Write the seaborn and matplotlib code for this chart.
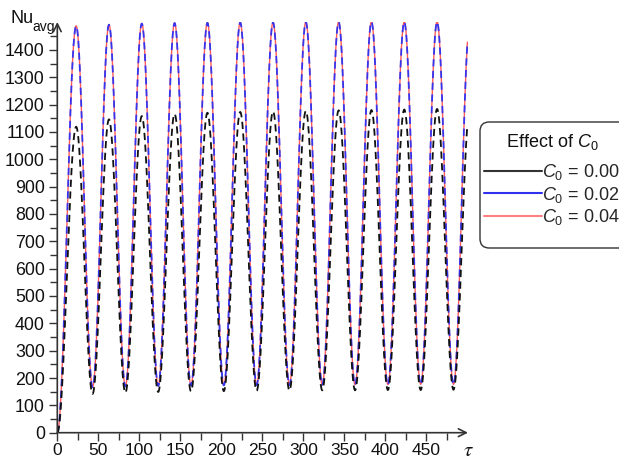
import numpy as np
import pandas as pd
import matplotlib
matplotlib.use("Agg")
import matplotlib.pyplot as plt
from matplotlib.lines import Line2D
from matplotlib.patches import FancyBboxPatch
import seaborn as sns

# ---------------- data ----------------
labels = ["$C_0$ = 0.00", "$C_0$ = 0.02", "$C_0$ = 0.04"]
peak_tau = [23, 63, 103, 143, 183, 223, 263, 303, 343, 383, 423, 463]
trough_tau = [43, 83, 123, 163, 203, 243, 283, 323, 363, 403, 443, 483]
end_tau = 500
next_peak_tau = 503

peaks_c000 = [1119, 1146, 1158, 1166, 1170, 1173, 1175, 1177, 1179, 1180, 1182, 1184]
troughs_c000 = [142, 146, 149, 151, 152, 153, 154, 155, 155, 156, 156, 157]
peaks_c002 = [1487, 1492, 1496, 1498, 1499, 1500, 1500, 1501, 1501, 1502, 1502, 1502]
troughs_c002 = [166, 169, 171, 172, 173, 174, 174, 175, 175, 175, 176, 176]
peaks_c004 = [1488, 1493, 1497, 1499, 1500, 1501, 1501, 1502, 1502, 1503, 1503, 1503]
troughs_c004 = [167, 170, 172, 173, 174, 175, 175, 176, 176, 176, 177, 177]

xticks = [0, 50, 100, 150, 200, 250, 300, 350, 400, 450]
yticks = [0, 100, 200, 300, 400, 500, 600, 700, 800, 900, 1000, 1100, 1200, 1300, 1400]


def curve(peaks, troughs):
    pts_t = [0.0]
    pts_v = [0.0]
    for pt, pv, tt, tv in zip(peak_tau, peaks, trough_tau, troughs):
        pts_t += [pt, tt]
        pts_v += [pv, tv]
    pts_t.append(next_peak_tau)
    pts_v.append(peaks[-1])
    ts, vs = [], []
    for i in range(len(pts_t) - 1):
        t0, t1 = pts_t[i], pts_t[i + 1]
        v0, v1 = pts_v[i], pts_v[i + 1]
        t = np.linspace(t0, t1, 60)
        v = v0 + (v1 - v0) * (1 - np.cos(np.pi * (t - t0) / (t1 - t0))) / 2
        keep = t <= end_tau
        ts.append(t[keep]); vs.append(v[keep])
    return np.concatenate(ts), np.concatenate(vs)


frames = []
for lab, pk, tr in zip(labels, [peaks_c000, peaks_c002, peaks_c004],
                       [troughs_c000, troughs_c002, troughs_c004]):
    t, v = curve(pk, tr)
    frames.append(pd.DataFrame({"tau": t, "Nu": v, "series": lab}))
df = pd.concat(frames, ignore_index=True)

# ---------------- styling ----------------
sns.set_theme(style="white")
plt.rcParams["font.family"] = ["Liberation Sans", "DejaVu Sans"]
plt.rcParams["mathtext.fontset"] = "custom"
plt.rcParams["mathtext.rm"] = "Liberation Sans"
plt.rcParams["mathtext.it"] = "Liberation Sans:italic"

W, H = 619, 459
fig = plt.figure(figsize=(W / 100, H / 100), dpi=100)
x0, x1 = 57.3, 468.0
y0, y1 = 432.7, 22.0
ax = fig.add_axes([x0 / W, 1 - y0 / H, (x1 - x0) / W, (y0 - y1) / H])

col_black = "#111111"
col_blue = "#3535f0"
col_red = "#ff5a5a"

d = df[df.series == labels[2]]
sns.lineplot(data=d, x="tau", y="Nu", ax=ax, color=col_red, lw=1.0,
             sort=False, estimator=None, legend=False)
d = df[df.series == labels[1]]
sns.lineplot(data=d, x="tau", y="Nu", ax=ax, color=col_blue, lw=1.3,
             sort=False, estimator=None, legend=False)
ax.lines[-1].set_dashes((4, 2.5))
d = df[df.series == labels[0]]
sns.lineplot(data=d, x="tau", y="Nu", ax=ax, color=col_black, lw=1.3,
             sort=False, estimator=None, legend=False)
ax.lines[-1].set_dashes((4, 2.5))

ax.set_xlim(0, 500.7)
ax.set_ylim(0, 1502)
ax.set_xlabel("")
ax.set_ylabel("")
for s in ax.spines.values():
    s.set_visible(False)

ax.set_xticks(xticks)
ax.set_xticklabels([str(v) for v in xticks])
ax.set_yticks(yticks)
ax.set_yticklabels([str(v) for v in yticks])
ax.set_xticks(np.array(xticks) + 25, minor=True)
ax.set_yticks(np.array(yticks) + 50, minor=True)
ax.tick_params(axis="x", which="major", direction="out", length=6, width=1.0,
               color="#333333", labelsize=12.5, labelcolor="#111111",
               bottom=True, pad=1.5)
ax.tick_params(axis="y", which="major", direction="out", length=6, width=1.0,
               color="#333333", labelsize=12.8, labelcolor="#111111",
               left=True, pad=3)
ax.tick_params(axis="both", which="minor", direction="out", length=5, width=1.0,
               color="#333333", bottom=True, left=True)

arrow = dict(arrowstyle="->", color="#333333", lw=1.2, shrinkA=0, shrinkB=0,
             mutation_scale=14)
ax.annotate("", xy=(1.0, 0), xytext=(0, 0), xycoords="axes fraction",
            textcoords="axes fraction", arrowprops=arrow, annotation_clip=False)
ax.annotate("", xy=(0, 1.0), xytext=(0, 0), xycoords="axes fraction",
            textcoords="axes fraction", arrowprops=arrow, annotation_clip=False)

fig.text(10 / W, 1 - 22.7 / H, "Nu", fontsize=13, va="baseline", color="#111111")
fig.text(32 / W, 1 - 31.5 / H, "avg", fontsize=10, va="baseline", color="#111111")
fig.text(468 / W, 1 - 450 / H, r"$\tau$", fontsize=15, va="center", ha="center",
         math_fontfamily="stix", color="#111111")

# legend frame (extends past the right edge, as in the reference)
frame = FancyBboxPatch((480 / W, 1 - 248 / H), 160 / W, 126 / H,
                       boxstyle="round,pad=0,rounding_size=0.015",
                       transform=fig.transFigure, facecolor="white",
                       edgecolor="#333333", linewidth=1.0, zorder=5,
                       mutation_aspect=W / H, clip_on=False)
ax.add_patch(frame)
ax.text(552 / W, 1 - 141.7 / H, r"Effect of $C_{\mathit{0}}$", fontsize=13,
        ha="center", va="center", color="#111111", zorder=6,
        transform=fig.transFigure, clip_on=False)

handles = [Line2D([], [], color="#333333", lw=1.5),
           Line2D([], [], color="#3030ee", lw=1.5),
           Line2D([], [], color="#ff8080", lw=1.5)]
leg = ax.legend(handles, labels, loc="upper left",
                bbox_to_anchor=(484 / W, 1 - 162 / H),
                bbox_transform=fig.transFigure, borderaxespad=0,
                fontsize=13, handlelength=3.2, handletextpad=0.0,
                labelspacing=0.15, borderpad=0.0, frameon=False)
leg.set_zorder(7)

fig.savefig("out.png", dpi=100)
